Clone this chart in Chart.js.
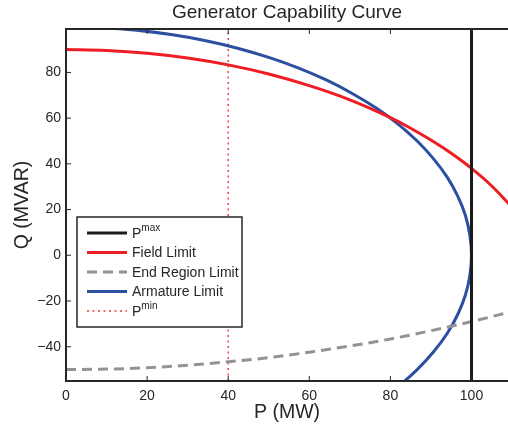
<!DOCTYPE html>
<html>
<head>
<meta charset="utf-8">
<script src="https://cdn.jsdelivr.net/npm/chart.js@4/dist/chart.umd.min.js"></script>
<style>
  html, body { margin: 0; padding: 0; background: #fff; }
</style>
</head>
<body>
<canvas id="chart" width="508" height="429"></canvas>
<script>
// values
const xLimits = [0, 109]
const yLimits = [-55, 99]
const pMax = 100
const pMin = 40

const fieldP = [0, 10, 20, 30, 40, 50, 60, 70, 80, 85, 90, 95, 100, 105, 110]
const fieldQ = [90, 89.6, 88.4, 86.3, 83.3, 79.3, 74.2, 68.0, 60.2, 55.6, 50.4, 44.6, 38.0, 30.3, 21.0]

const endP = [0, 10, 20, 30, 40, 50, 60, 70, 80, 90, 100, 110]
const endQ = [-50, -49.8, -49.2, -48.1, -46.6, -44.8, -42.4, -39.7, -36.6, -33.0, -29.0, -24.6]

const armatureP = [0, 8.7, 17.4, 25.9, 34.2, 42.3, 50.0, 57.4, 64.3, 70.7, 76.6, 81.9, 86.6, 90.6, 94.0, 96.6, 98.5, 99.6, 100,
  99.6, 98.5, 96.6, 94.0, 90.6, 86.6, 81.9, 76.6]
const armatureQ = [100, 99.6, 98.5, 96.6, 94.0, 90.6, 86.6, 81.9, 76.6, 70.7, 64.3, 57.4, 50.0, 42.3, 34.2, 25.9, 17.4, 8.7, 0,
  -8.7, -17.4, -25.9, -34.2, -42.3, -50.0, -57.4, -64.3]

const legendLabels = [
  { text: 'P', sup: 'max' },
  { text: 'Field Limit' },
  { text: 'End Region Limit' },
  { text: 'Armature Limit' },
  { text: 'P', sup: 'min' },
]

const axisColor = '#262626'
const colors = {
  pmax: '#1a1a1a',
  field: '#ee1d23',
  end: '#939393',
  armature: '#2b4fa1',
  pmin: '#ee3a40',
}

const toPoints = (xs, ys) => xs.map((x, i) => ({ x, y: ys[i] }))
const minus = v => String(v).replace('-', '\u2212')

Chart.defaults.font.family = "'Liberation Sans', Arial, Helvetica, sans-serif"
Chart.defaults.color = axisColor

const datasets = [
  {
    label: 'Pmax',
    data: [{ x: pMax, y: yLimits[0] }, { x: pMax, y: yLimits[1] }],
    borderColor: colors.pmax,
    borderWidth: 3,
  },
  {
    label: 'Field Limit',
    data: toPoints(fieldP, fieldQ),
    borderColor: colors.field,
    borderWidth: 3,
    cubicInterpolationMode: 'monotone',
  },
  {
    label: 'End Region Limit',
    data: toPoints(endP, endQ),
    borderColor: colors.end,
    borderWidth: 3,
    borderDash: [10, 6],
    cubicInterpolationMode: 'monotone',
  },
  {
    label: 'Armature Limit',
    data: toPoints(armatureP, armatureQ),
    borderColor: colors.armature,
    borderWidth: 3,
    tension: 0.4,
  },
  {
    label: 'Pmin',
    data: [{ x: pMin, y: yLimits[0] }, { x: pMin, y: yLimits[1] }],
    borderColor: colors.pmin,
    borderWidth: 1.4,
    borderDash: [2, 3.5],
  },
]

// box around the plot with inward ticks, like the original figure
const framePlugin = {
  id: 'frame',
  afterDatasetsDraw(chart) {
    const { ctx, chartArea: a, scales } = chart
    ctx.save()
    ctx.strokeStyle = axisColor
    ctx.lineWidth = 1
    const tick = 5
    scales.x.ticks.forEach(t => {
      const px = scales.x.getPixelForValue(t.value)
      ctx.beginPath()
      ctx.moveTo(px, a.bottom); ctx.lineTo(px, a.bottom - tick)
      ctx.moveTo(px, a.top); ctx.lineTo(px, a.top + tick)
      ctx.stroke()
    })
    scales.y.ticks.forEach(t => {
      const py = scales.y.getPixelForValue(t.value)
      ctx.beginPath()
      ctx.moveTo(a.left, py); ctx.lineTo(a.left + tick, py)
      ctx.stroke()
    })
    ctx.lineWidth = 2
    ctx.beginPath()
    ctx.moveTo(a.right + 2, a.top)
    ctx.lineTo(a.left, a.top)
    ctx.lineTo(a.left, a.bottom)
    ctx.lineTo(a.right + 2, a.bottom)
    ctx.stroke()
    ctx.restore()
  },
}

// legend with superscripts, drawn on the canvas
const legendPlugin = {
  id: 'supLegend',
  afterDraw(chart) {
    const { ctx, chartArea: a } = chart
    const left = a.left + 11
    const top = a.top + 188
    const width = 165
    const height = 110
    ctx.save()
    ctx.fillStyle = '#fff'
    ctx.fillRect(left, top, width, height)
    ctx.strokeStyle = axisColor
    ctx.lineWidth = 1.5
    ctx.strokeRect(left, top, width, height)

    const family = Chart.defaults.font.family
    chart.data.datasets.forEach((ds, i) => {
      const y = top + 16 + i * 19.5
      ctx.strokeStyle = ds.borderColor
      ctx.lineWidth = ds.borderWidth
      ctx.setLineDash(ds.borderDash || [])
      ctx.beginPath()
      ctx.moveTo(left + 10, y)
      ctx.lineTo(left + 50, y)
      ctx.stroke()
      ctx.setLineDash([])

      const item = legendLabels[i]
      ctx.fillStyle = axisColor
      ctx.textBaseline = 'middle'
      ctx.font = '14px ' + family
      ctx.fillText(item.text, left + 55, y + 1)
      if (item.sup) {
        const w = ctx.measureText(item.text).width
        ctx.font = '10px ' + family
        ctx.fillText(item.sup, left + 55 + w, y - 5)
      }
    })
    ctx.restore()
  },
}

new Chart(document.getElementById('chart'), {
  type: 'scatter',
  data: { datasets },
  plugins: [framePlugin, legendPlugin],
  options: {
    responsive: false,
    animation: false,
    devicePixelRatio: 1,
    showLine: true,
    layout: { padding: 0 },
    elements: {
      point: { radius: 0, hoverRadius: 0 },
      line: { fill: false },
    },
    plugins: {
      legend: { display: false },
      tooltip: { enabled: false },
    },
    scales: {
      // top axis only carries the title, so it centres over the plot
      top: {
        type: 'linear',
        position: 'top',
        min: xLimits[0],
        max: xLimits[1],
        grid: { display: false, drawTicks: false },
        border: { display: false },
        ticks: { display: false },
        title: { display: true, text: 'Generator Capability Curve', color: axisColor, font: { size: 19 }, padding: { top: 1.5, bottom: 0 } },
        afterFit(scale) { scale.height = 29 },
      },
      x: {
        type: 'linear',
        min: xLimits[0],
        max: xLimits[1],
        grid: { display: false, drawTicks: false },
        border: { display: false },
        ticks: { stepSize: 20, includeBounds: false, padding: 7, font: { size: 14 }, color: axisColor, callback: minus },
        title: { display: true, text: 'P (MW)', color: axisColor, font: { size: 19.5 }, padding: { top: 0, bottom: 5 } },
        afterFit(scale) { scale.height = 48 },
      },
      y: {
        type: 'linear',
        min: yLimits[0],
        max: yLimits[1],
        grid: { display: false, drawTicks: false },
        border: { display: false },
        ticks: { stepSize: 20, includeBounds: false, padding: 5, font: { size: 14 }, color: axisColor, callback: minus },
        title: { display: true, text: 'Q (MVAR)', color: axisColor, font: { size: 19.5 }, padding: { top: 11, bottom: 0 } },
        afterFit(scale) { scale.width = 66 },
      },
    },
  },
})
</script>
</body>
</html>
